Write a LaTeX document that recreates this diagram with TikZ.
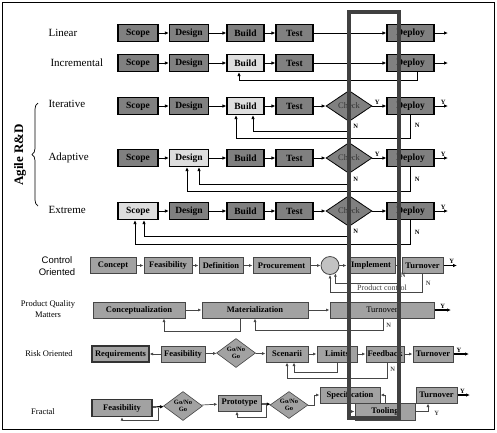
\documentclass[tikz,border=0pt]{standalone}
\usepackage{fontspec}
\setmainfont{Liberation Serif}
\newfontfamily\arialfont{Liberation Sans}
\usetikzlibrary{arrows.meta,shapes,positioning,decorations.pathreplacing}
\definecolor{BoxDark}{RGB}{128,128,128}
\definecolor{BoxLight}{RGB}{222,222,222}
\definecolor{BoxGray}{RGB}{162,162,162}
\definecolor{LineGray}{RGB}{70,70,70}
\definecolor{BarGray}{RGB}{64,64,64}
\tikzset{
  dbox/.style={draw=black,fill=BoxDark,line width=1.1pt,minimum height=17pt,inner sep=0pt,font=\bfseries\fontsize{9.5}{10}\selectfont},
  lbox/.style={dbox,fill=BoxLight},
  gbox/.style={draw=LineGray,fill=BoxGray,line width=1pt,minimum height=16pt,inner sep=0pt,font=\bfseries\fontsize{8.5}{9}\selectfont},
  chk/.style={diamond,draw=black,fill=BoxDark,line width=0.8pt,inner sep=0pt,minimum width=46pt,minimum height=31pt,font=\fontsize{8.5}{9}\selectfont,text=black!80},
  gng/.style={diamond,aspect=1.4,draw=LineGray,fill=BoxGray,line width=0.6pt,inner sep=0pt,minimum width=39pt,minimum height=29pt,align=center,font=\bfseries\fontsize{6.5}{7}\selectfont},
  arr/.style={-{Latex[length=4pt,width=3.5pt]},line width=0.8pt},
  garr/.style={-{Latex[length=3.5pt,width=3pt]},LineGray,line width=0.7pt},
  karr/.style={-{Latex[length=4pt,width=3.5pt]},line width=1.2pt},
  rowlbl/.style={anchor=west,font=\fontsize{11}{12}\selectfont},
  lowlbl/.style={align=center,font=\fontsize{8.5}{11}\selectfont},
  yn/.style={font=\bfseries\fontsize{6.5}{7}\selectfont,inner sep=0pt},
}
\begin{document}
\begin{tikzpicture}[x=1pt,y=-1pt]
  \useasboundingbox (0,0) rectangle (497,432);
  \draw[line width=0.6pt] (2,2) rectangle (494,429);

  % agile rows
  \node[rowlbl] (lLin) at (45,33) {Linear};
  \node[rowlbl] (lInc) at (47,63) {Incremental};
  \node[rowlbl] (lIte) at (45,104) {Iterative};
  \node[rowlbl] (lAda) at (45,158) {Adaptive};
  \node[rowlbl] (lExt) at (45,210) {Extreme};
  \node[rotate=90,font=\bfseries\fontsize{13}{14}\selectfont] (agile) at (20,155) {Agile R\&D};
  \draw[decorate,decoration={brace,amplitude=6pt},line width=0.7pt] (38,206) -- (38,103);

  \foreach \r/\y/\fs/\fd/\fb in {1/33/dbox/dbox/dbox,2/63/dbox/dbox/lbox,3/106/dbox/dbox/lbox,4/158/dbox/lbox/dbox,5/211/lbox/dbox/dbox} {
    \node[\fs,minimum width=40pt] (sc\r) at (138,\y) {Scope};
    \node[\fd,minimum width=39pt] (de\r) at (189,\y) {Design};
    \node[\fb,minimum width=37pt] (bu\r) at (245.5,\y) {Build};
    \node[dbox,minimum width=37pt] (te\r) at (294.5,\y) {Test};
    \node[dbox,minimum width=47pt] (dp\r) at (410.5,\y) {Deploy};
    \coordinate (o\r) at (448,\y);
    \draw[arr] (sc\r)--(de\r); \draw[arr] (de\r)--(bu\r); \draw[arr] (bu\r)--(te\r);
  }
  \node[chk] (ck3) at (349,106) {Check};
  \node[chk] (ck4) at (349,158) {Check};
  \node[chk] (ck5) at (349,211) {Check};
  \draw[arr] (te1)--(dp1); \draw[arr] (dp1)--(o1);
  \draw[arr] (te2)--(dp2); \draw[arr] (dp2)--(o2);
  \draw[arr] (te3)--(ck3); \draw[arr] (ck3)-- node[yn,above=1pt,pos=0.35]{Y} (dp3); \draw[arr] (dp3)-- node[yn,above=1pt,pos=0.65]{Y} (o3);
  \draw[arr] (te4)--(ck4); \draw[arr] (ck4)-- node[yn,above=1pt,pos=0.35]{Y} (dp4); \draw[arr] (dp4)-- node[yn,above=1pt,pos=0.65]{Y} (o4);
  \draw[arr] (te5)--(ck5); \draw[arr] (ck5)--(dp5); \draw[arr] (dp5)-- node[yn,above=1pt,pos=0.65]{Y} (o5);

  % feedback loops
  \draw[arr] ([xshift=6.5pt]dp2.south) -- ++(0,8.5) -| ([xshift=-6.5pt]bu2.south);
  \draw[arr] (ck3.south) -- node[yn,right=4pt]{N} ++(0,9.5) -| ([xshift=7.5pt]bu3.south);
  \draw[arr] (dp3.south) -- node[yn,right=4pt,pos=0.45]{N} ++(0,23.5) -| ([xshift=-9.5pt]bu3.south);
  \draw[arr] (ck4.south) -- node[yn,right=4pt]{N} ++(0,10.5) -| ([xshift=10pt]de4.south);
  \draw[arr] (dp4.south) -- node[yn,right=4pt,pos=0.5]{N} ++(0,24.5) -| ([xshift=-2pt]de4.south);
  \draw[arr] (ck5.south) -- node[yn,right=4pt]{N} ++(0,9.5) -| ([xshift=6pt]sc5.south);
  \draw[arr] (dp5.south) -- node[yn,right=4pt,pos=0.5]{N} ++(0,24.5) -| ([xshift=-3pt]sc5.south);

  % control oriented
  \node[align=center,font=\arialfont\fontsize{9.5}{12}\selectfont] (lCon) at (57,266) {Control\\Oriented};
  \node[gbox,minimum width=46pt] (cc) at (113,265.5) {Concept};
  \node[gbox,minimum width=48pt] (cf) at (168,265.5) {Feasibility};
  \node[gbox,minimum width=44pt] (cd) at (221,265.5) {Definition};
  \node[gbox,minimum width=57pt] (cp) at (281.5,265.5) {Procurement};
  \node[circle,draw=LineGray,fill=BoxLight!70!gray,line width=0.8pt,minimum size=18pt,inner sep=0pt] (sum) at (330,265.5) {};
  \node[gbox,minimum width=48pt] (ci) at (371,265.5) {Implement};
  \node[gbox,minimum width=41pt] (ct) at (422.5,265.5) {Turnover};
  \coordinate (csp) at (398.5,265.5);
  \coordinate (co6) at (457,265.5);
  \draw[garr] (cc)--(cf); \draw[garr] (cf)--(cd); \draw[garr] (cd)--(cp);
  \draw[garr] (cp)--(sum); \draw[garr] (sum)--(ci); \draw[garr] (ci)--(ct);
  \draw[karr] (ct)-- node[yn,above=1pt,pos=0.6]{Y} (co6);
  \draw[garr] (csp) -- node[yn,right=2pt,pos=0.55]{N} ++(0,17.5) -| (sum.-55);
  \draw[garr] (ct.south) -- node[yn,right=3pt,pos=0.5]{N} ++(0,18.5) -| (sum.south);
  \node[font=\fontsize{8}{9}\selectfont,text=black!75,inner sep=0pt] (pctl) at (382,287.5) {Product control};

  % product quality matters
  \node[lowlbl] (lPqm) at (48,309) {Product Quality\\Matters};
  \node[gbox,minimum width=92pt] (qc) at (139,310) {Conceptualization};
  \node[gbox,minimum width=106pt] (qm) at (255,310) {Materialization};
  \node[gbox,minimum width=104pt,font=\fontsize{8.5}{9}\selectfont] (qt) at (382,310) {Turnover};
  \coordinate (qo) at (451,310);
  \draw[garr] (qc)--(qm); \draw[garr] (qm)--(qt);
  \draw[karr] (qt)-- node[yn,above=1pt,pos=0.5]{Y} (qo);
  \draw[garr] ([xshift=-15pt]qm.south) -- ++(0,13) -| ([xshift=25pt]qc.south);
  \draw[garr] ([xshift=1pt]qt.south) -- node[yn,right=3pt,pos=0.6]{N} ++(0,12) -| (qm.south);

  % risk oriented
  \node[lowlbl] (lRsk) at (49,354) {Risk Oriented};
  \node[gbox,minimum width=57pt,line width=1.2pt,draw=black!80] (rr) at (120.5,354) {Requirements};
  \node[gbox,minimum width=44pt] (rf) at (183,354) {Feasibility};
  \node[gng] (rg) at (236,353) {Go/No\\Go};
  \node[gbox,minimum width=42pt] (rs) at (287,354) {Scenarii};
  \node[gbox,minimum width=40pt] (rl) at (337,354) {Limits};
  \node[gbox,minimum width=38pt] (rb) at (385,354) {Feedback};
  \node[gbox,minimum width=40pt] (rt) at (433,354) {Turnover};
  \coordinate (ro) at (469,354);
  \draw[garr] (rf)--(rr); \draw[garr] (rf)--(rg); \draw[garr] (rg)--(rs);
  \draw[garr] (rs)--(rl); \draw[garr] (rl)--(rb); \draw[garr] (rb)--(rt);
  \draw[karr] (rt)-- node[yn,above=1pt,pos=0.35]{Y} (ro);
  \draw[garr] (rl.south) -- ++(0,10) -| ([xshift=7pt]rs.south);
  \draw[garr] ([xshift=2pt]rb.south) -- node[yn,right=3pt,pos=0.4]{N} ++(0,16) -| (rs.south);

  % fractal
  \node[lowlbl] (lFra) at (43,412) {Fractal};
  \node[gbox,minimum width=60pt,minimum height=17pt,line width=1.2pt,draw=black!80] (ff) at (122,408) {Feasibility};
  \node[gng] (fg) at (183,406) {Go/No\\Go};
  \node[gbox,minimum width=43pt] (fp) at (239.5,403) {Prototype};
  \node[gng,minimum width=38pt,minimum height=27pt] (fh) at (289,405) {Go/No\\Go};
  \node[gbox,minimum width=60pt] (fs) at (350,395) {Specification};
  \node[gbox,minimum width=60pt,minimum height=17pt] (ftl) at (385,411.5) {Tooling};
  \node[gbox,minimum width=41pt] (ftu) at (436.5,395) {Turnover};
  \coordinate (fo) at (470,395);
  \draw[karr] (ff)--(fg); \draw[garr] (fg)--(fp); \draw[karr] (fp)--(fh);
  \draw[garr] (fh.east) -| ([xshift=-5pt]fs.west) -- (fs.west);
  \draw[garr] (ftl.north) |- (fs.east);
  \draw[garr] ([xshift=-1pt]fs.south) |- (ftl.west);
  \draw[garr] (ftl.east) -| node[yn,pos=0.5,anchor=west,xshift=6pt,yshift=-2pt]{Y} ([xshift=-8.5pt]ftu.south);
  \draw[karr] (ftu)-- node[yn,above=1pt,pos=0.4]{Y} (fo);
  \draw[garr] ([xshift=6pt]ff.east) -- ++(0,12) -| (ff.south);
  \draw[garr] ([xshift=5pt]fp.east) -- ++(0,14) -| ([xshift=-2.5pt]fp.south);

  % highlight bar
  \draw[BarGray,line width=4pt] (349,12) rectangle (399,418);
\end{tikzpicture}
\end{document}
